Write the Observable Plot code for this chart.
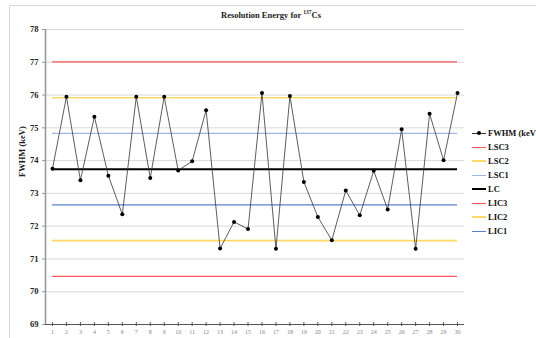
<!DOCTYPE html>
<html>
<head>
<meta charset="utf-8">
<script src="https://cdn.jsdelivr.net/npm/d3@7"></script>
<script src="https://cdn.jsdelivr.net/npm/@observablehq/plot@0.6"></script>
<style>
  html, body { margin: 0; padding: 0; background: #fff; }
  #wrap { position: relative; width: 536px; height: 338px; overflow: hidden; background: #fff; font-family: "Liberation Serif", "DejaVu Serif", serif; }
  #frame { position: absolute; left: 9px; top: 5px; width: 560px; height: 360px; border: 1px solid #d9d9d9; box-sizing: border-box; }
  #title { position: absolute; top: 9px; left: 0; width: 542px; text-align: center; font-weight: bold; font-size: 8.5px; color: #222; }
  #title sup { font-size: 5.5px; }
  #chart { position: absolute; left: 0; top: 0; }
  #legend { position: absolute; left: 472px; top: 126px; font-weight: bold; font-size: 8.5px; color: #111; white-space: nowrap; }
  .item { height: 14px; display: flex; align-items: center; }
  .sw { width: 14px; margin-right: 2px; position: relative; }
  .dot { position: absolute; left: 5px; width: 4px; height: 4px; border-radius: 50%; background: #000; }
</style>
</head>
<body>
<div id="wrap">
  <div id="frame"></div>
  <div id="chart"></div>
  <div id="title">Resolution Energy for <sup>137</sup>Cs</div>
  <div id="legend"></div>
</div>
<script>
const samples = [1,2,3,4,5,6,7,8,9,10,11,12,13,14,15,16,17,18,19,20,21,22,23,24,25,26,27,28,29,30];
const fwhm = [73.75, 75.95, 73.40, 75.34, 73.54, 72.36, 75.95, 73.47, 75.95, 73.70,
              73.98, 75.54, 71.32, 72.13, 71.91, 76.06, 71.31, 75.97, 73.35, 72.28,
              71.57, 73.09, 72.33, 73.69, 72.51, 74.96, 71.31, 75.43, 74.01, 76.06];
const controlNames = ["LSC3", "LSC2", "LSC1", "LC", "LIC3", "LIC2", "LIC1"];
const controlValues = [77.01, 75.92, 74.83, 73.74, 70.47, 71.56, 72.65];
const controlColors = ["#ff5a5a", "#ffd966", "#9fb6e2", "#000000", "#ff5a5a", "#ffd966", "#5b80cf"];
const controlWidths = [1.2, 1.6, 1.2, 2, 1.2, 1.6, 1.2];
const yTicks = [69, 70, 71, 72, 73, 74, 75, 76, 77, 78];
const seriesName = "FWHM (keV)";
const yLabel = "FWHM (keV)";

const points = samples.map((s, i) => ({sample: s, value: fwhm[i]}));
const controls = controlNames.map((n, i) => ({name: n, value: controlValues[i], color: controlColors[i], width: controlWidths[i]}));
const first = samples[0], last = samples[samples.length - 1];
const yMin = yTicks[0], yMax = yTicks[yTicks.length - 1];

const chart = Plot.plot({
  width: 536,
  height: 338,
  marginLeft: 45,
  marginRight: 72,
  marginTop: 29,
  marginBottom: 14,
  style: {fontFamily: "'Liberation Serif', serif", background: "transparent", overflow: "visible"},
  x: {type: "linear", domain: [first - 0.5, last + 0.5]},
  y: {type: "linear", domain: [yMin, yMax]},
  marks: [
    Plot.ruleY(yTicks, {y: d => d, stroke: "#d9d9d9", strokeWidth: 1}),
    Plot.ruleY(controls, {y: "value", x1: first, x2: last, stroke: "color", strokeWidth: "width"}),
    Plot.line(points, {x: "sample", y: "value", stroke: "#333", strokeWidth: 0.8}),
    Plot.dot(points, {x: "sample", y: "value", r: 2, fill: "#000"}),
    Plot.ruleX([first - 0.5], {x: d => d, stroke: "#999", strokeWidth: 1.6}),
    Plot.ruleY([yMin], {y: d => d, stroke: "#555", strokeWidth: 1}),
    Plot.axisY(yTicks, {tickSize: 3, tickPadding: 4, stroke: "#999", fontSize: 8.5, fontWeight: "bold", fill: "#222", label: null}),
    Plot.axisX(samples, {tickSize: 2, tickPadding: 3, stroke: "#555", fontSize: 6, fill: "#888", label: null, tickFormat: d => d}),
    Plot.ruleX(samples, {x: d => d, y1: yMin, y2: yMin, insetTop: -2, stroke: "#555", strokeWidth: 1}),
    Plot.text([yLabel], {frameAnchor: "left", dx: -23, rotate: -90, text: d => d, fontSize: 8.5, fontWeight: "bold", fill: "#222"})
  ]
});
document.getElementById("chart").appendChild(chart);

const legend = document.getElementById("legend");
const items = [{name: seriesName, color: "#333", width: 1, dot: true}].concat(controls.map(c => ({name: c.name, color: c.color, width: Math.round(c.width) || 1, dot: false})));
for (const it of items) {
  const row = document.createElement("div");
  row.className = "item";
  const sw = document.createElement("div");
  sw.className = "sw";
  sw.style.height = it.width + "px";
  sw.style.background = it.color;
  if (it.dot) { const d = document.createElement("div"); d.className = "dot"; d.style.top = "-1.5px"; sw.appendChild(d); }
  row.appendChild(sw);
  const t = document.createElement("span");
  t.textContent = it.name;
  row.appendChild(t);
  legend.appendChild(row);
}
</script>
</body>
</html>
